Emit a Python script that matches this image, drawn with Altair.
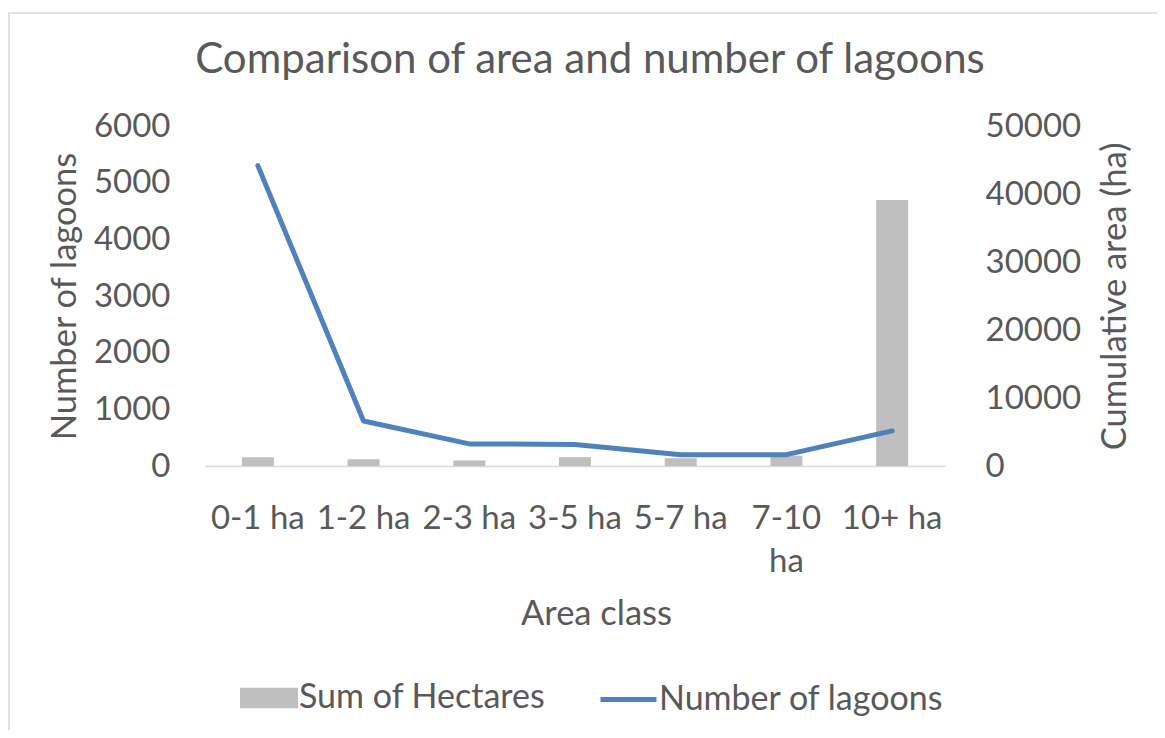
import altair as alt
import pandas as pd

categories = ["0-1 ha", "1-2 ha", "2-3 ha", "3-5 ha", "5-7 ha", "7-10 ha", "10+ ha"]
hectares = [1300, 1000, 800, 1300, 1150, 1500, 39100]
lagoons = [5300, 795, 390, 380, 200, 200, 620]

left_ticks = [0, 1000, 2000, 3000, 4000, 5000, 6000]
right_ticks = [0, 10000, 20000, 30000, 40000, 50000]

FONT = "Lato"
TXT = "#595959"

df_bar = pd.DataFrame({"cat": categories, "val": hectares, "series": "Sum of Hectares"})
df_line = pd.DataFrame({"cat": categories, "val": lagoons, "series": "Number of lagoons"})

x_enc = alt.X(
    "cat:N",
    sort=categories,
    scale=alt.Scale(domain=categories, paddingInner=0, paddingOuter=0),
    axis=alt.Axis(
        title="Area class",
        labelAngle=0,
        ticks=False,
        domainColor="#d9d9d9",
        domainWidth=1.5,
        labelPadding=36,
        labelLineHeight=43,
        labelExpr="datum.label == '7-10 ha' ? ['7-10', 'ha'] : datum.label",
        titleX=391,
        titleY=148,
        titleBaseline="middle",
        titleAlign="center",
    ),
)

border = alt.Chart(pd.DataFrame({"a": [0]})).mark_rect(
    fill=None, stroke="#d9d9d9", strokeWidth=1.5
).encode(
    x=alt.value(-196),
    x2=alt.value(1100),
    y=alt.value(-113),
    y2=alt.value(800),
)

bars = alt.Chart(df_bar).mark_bar(size=32).encode(
    x=x_enc,
    y=alt.Y(
        "val:Q",
        scale=alt.Scale(domain=[0, 50000], nice=False),
        axis=alt.Axis(
            orient="right",
            title="Cumulative area (ha)",
            values=right_ticks,
            format="d",
            grid=False,
            ticks=False,
            domain=False,
            labelPadding=40,
            labelAlign="left",
            titleAngle=270,
            titleX=170,
            titleY=170,
            titleBaseline="middle",
            titleAlign="center",
        ),
    ),
    fill=alt.Fill(
        "series:N",
        scale=alt.Scale(domain=["Sum of Hectares"], range=["#bfbfbf"]),
        legend=alt.Legend(
            title=None,
            orient="none",
            legendX=35,
            legendY=543,
            symbolType="M-1,-0.35H1V0.35H-1Z",
            symbolSize=3364,
            symbolStrokeWidth=0,
            labelOffset=1,
            labelLimit=0,
            padding=0,
        ),
    ),
)

line = alt.Chart(df_line).mark_line(strokeWidth=5, strokeCap="round", strokeJoin="round").encode(
    x=x_enc,
    y=alt.Y(
        "val:Q",
        scale=alt.Scale(domain=[0, 6000], nice=False),
        axis=alt.Axis(
            orient="left",
            title="Number of lagoons",
            values=left_ticks,
            format="d",
            grid=False,
            ticks=False,
            domain=False,
            labelPadding=35,
            titleAngle=270,
            titleX=-140,
            titleY=170,
            titleBaseline="middle",
            titleAlign="center",
        ),
    ),
    stroke=alt.Stroke(
        "series:N",
        scale=alt.Scale(domain=["Number of lagoons"], range=["#4f81bd"]),
        legend=alt.Legend(
            title=None,
            orient="none",
            legendX=393,
            legendY=543,
            symbolType="stroke",
            symbolSize=3136,
            symbolStrokeWidth=5,
            labelOffset=0,
            labelLimit=0,
            padding=0,
        ),
    ),
)

chart = (
    alt.layer(border, bars, line)
    .resolve_scale(y="independent", fill="independent", stroke="independent")
    .properties(
        width=740,
        height=340,
        autosize=alt.AutoSizeParams(type="none"),
        padding={"left": 197, "top": 118, "right": 212, "bottom": 264},
        title=alt.TitleParams(
            "Comparison of area and number of lagoons",
            anchor="middle",
            dx=15,
            offset=-103,
            baseline="alphabetic",
            font=FONT,
            fontSize=42,
            fontWeight="normal",
            color=TXT,
        ),
    )
    .configure_view(stroke=None)
    .configure_axis(
        labelFont=FONT,
        labelFontSize=33,
        labelColor=TXT,
        titleFont=FONT,
        titleFontSize=34.5,
        titleFontWeight="normal",
        titleColor=TXT,
    )
    .configure_legend(
        labelFont=FONT,
        labelFontSize=34,
        labelColor=TXT,
    )
)

chart.save("out.html", embed_options={"renderer": "svg", "actions": False})
